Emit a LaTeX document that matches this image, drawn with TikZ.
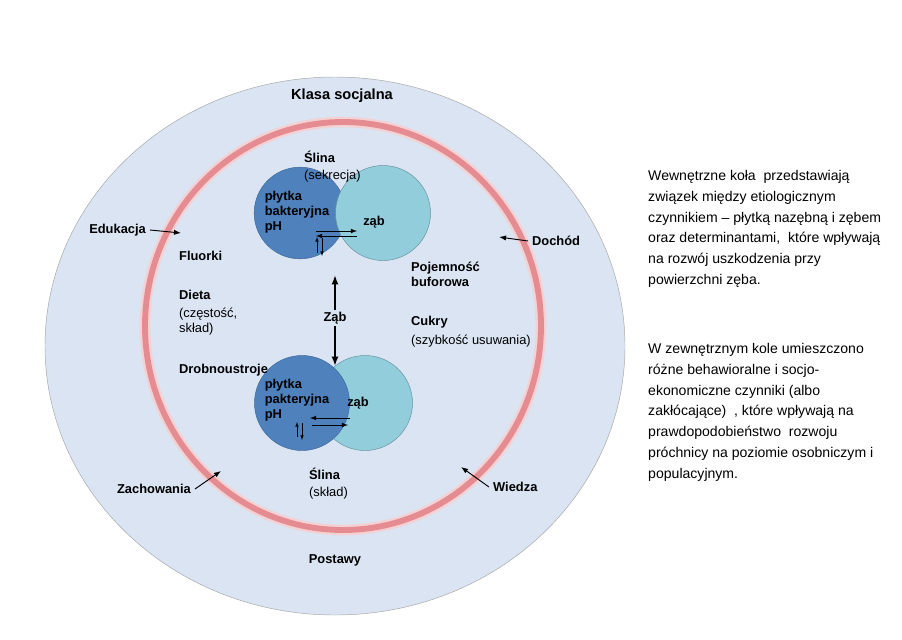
\documentclass[tikz,border=0pt]{standalone}
\usepackage{fontspec}
\setmainfont{Liberation Sans}
\usetikzlibrary{positioning, arrows.meta}
\definecolor{outerfill}{RGB}{218,228,242}
\definecolor{ringred}{RGB}{228,140,145}
\definecolor{plaque}{RGB}{79,129,189}
\definecolor{tooth}{RGB}{146,205,220}
\tikzset{
  lbl/.style={font=\bfseries\fontsize{11}{13}\selectfont, align=left},
  plain/.style={font=\fontsize{11}{13}\selectfont, align=left},
  side/.style={font=\fontsize{12}{17.8}\selectfont, align=left, anchor=north west, inner sep=0pt},
  pointer/.style={-{Latex[length=6pt]}, thick},
}
\begin{document}
\begin{tikzpicture}[x=0.03cm, y=-0.03cm, >=latex]
  \useasboundingbox (0,0) rectangle (902,639);
  % outer circle and ring
  \draw[gray!70, fill=outerfill] (335,346) ellipse (290 and 269);
  \draw[ringred!40, line width=9pt] (343,326) ellipse (198 and 204);
  \draw[ringred, line width=5pt] (343,326) ellipse (198 and 204);
  % upper pair
  \node[circle, fill=plaque, draw=plaque!80!black, minimum size=2.75cm] (p1) at (300,213) {};
  \node[circle, fill=tooth, draw=tooth!70!black, minimum size=2.85cm] (t1) at (383,213) {};
  \node[lbl] (pl1) at (297,212) {płytka\\bakteryjna\\pH};
  \node[lbl] (z1) at (374,222) {ząb};
  \coordinate (a1) at (316,231);
  \coordinate (b1) at (357,231);
  \coordinate (a1b) at (316,236);
  \coordinate (b1b) at (357,236);
  \draw[->, thick] (a1) -- (b1);
  \draw[->, thick] (b1b) -- (a1b);
  \draw[->] (317,253) -- (317,237);
  \draw[->] (322,238) -- (322,256);
  % lower pair
  \node[circle, fill=tooth, draw=tooth!70!black, minimum size=2.85cm] (t2) at (365,403) {};
  \node[circle, fill=plaque, draw=plaque!80!black, minimum size=2.85cm] (p2) at (302,403) {};
  \node[lbl] (pl2) at (297,400) {płytka\\pakteryjna\\pH};
  \node[lbl] (z2) at (358,403) {ząb};
  \coordinate (a2) at (350,418);
  \coordinate (b2) at (310,418);
  \draw[->, thick] (a2) -- (b2);
  \draw[->, thick] (312,425) -- (348,425);
  \draw[->] (297,437) -- (297,422);
  \draw[->] (302,423) -- (302,440);
  % middle
  \node[lbl] (zab) at (335,318) {Ząb};
  \coordinate (up) at (335,275);
  \coordinate (down) at (335,366);
  \draw[-{Latex[length=8pt]}, line width=1.8pt] (zab.north) ++(0,2) -- (up);
  \draw[-{Latex[length=8pt]}, line width=1.8pt] (zab.south) ++(0,-2) -- (down);
  % labels inside
  \node[lbl, font=\bfseries\fontsize{12.5}{14}\selectfont] (klasa) at (342,96) {Klasa socjalna};
  \node[lbl, anchor=west] (slina1) at (300,157) {Ślina};
  \node[plain, anchor=west] (sek) at (300,176) {(sekrecja)};
  \node[lbl, anchor=west] (fluor) at (175,256) {Fluorki};
  \node[lbl, anchor=west] (dieta) at (175,295) {Dieta};
  \node[plain, anchor=north west] (dietb) at (175,304) {(częstość,\\skład)};
  \node[lbl, anchor=west] (drob) at (175,370) {Drobnoustroje};
  \node[lbl, anchor=north west] (poj) at (407,258) {Pojemność\\buforowa};
  \node[lbl, anchor=west] (cukry) at (407,322) {Cukry};
  \node[plain, anchor=west] (szyb) at (407,341) {(szybkość usuwania)};
  \node[lbl, anchor=west] (slina2) at (305,474) {Ślina};
  \node[plain, anchor=west] (sklad) at (305,493) {(skład)};
  \node[lbl] (post) at (335,560) {Postawy};
  % outer factors
  \node[lbl, anchor=east] (edu) at (150,230) {Edukacja};
  \node[lbl, anchor=west] (doch) at (528,241) {Dochód};
  \node[lbl, anchor=east] (zach) at (195,489) {Zachowania};
  \node[lbl, anchor=west] (wied) at (489,487) {Wiedza};
  \coordinate (edur) at (181,233);
  \coordinate (dochr) at (499,237);
  \coordinate (zachr) at (221,471);
  \coordinate (wiedr) at (461,467);
  \draw[pointer] (edu.east) -- (edur);
  \draw[pointer] (doch.west) -- (dochr);
  \draw[pointer] (zach.east) -- (zachr);
  \draw[pointer] (wied.west) -- (wiedr);
  % side text
  \node[side] (txt1) at (648,170) {Wewnętrzne koła \ przedstawiają\\związek między etiologicznym\\czynnikiem – płytką nazębną i zębem\\oraz determinantami, \ które wpływają\\na rozwój uszkodzenia przy\\powierzchni zęba.};
  \node[side] (txt2) at (648,343) {W zewnętrznym kole umieszczono\\różne behawioralne i socjo-\\ekonomiczne czynniki (albo\\zakłócające) \ , które wpływają na\\prawdopodobieństwo \ rozwoju\\próchnicy na poziomie osobniczym i\\populacyjnym.};
\end{tikzpicture}
\end{document}
